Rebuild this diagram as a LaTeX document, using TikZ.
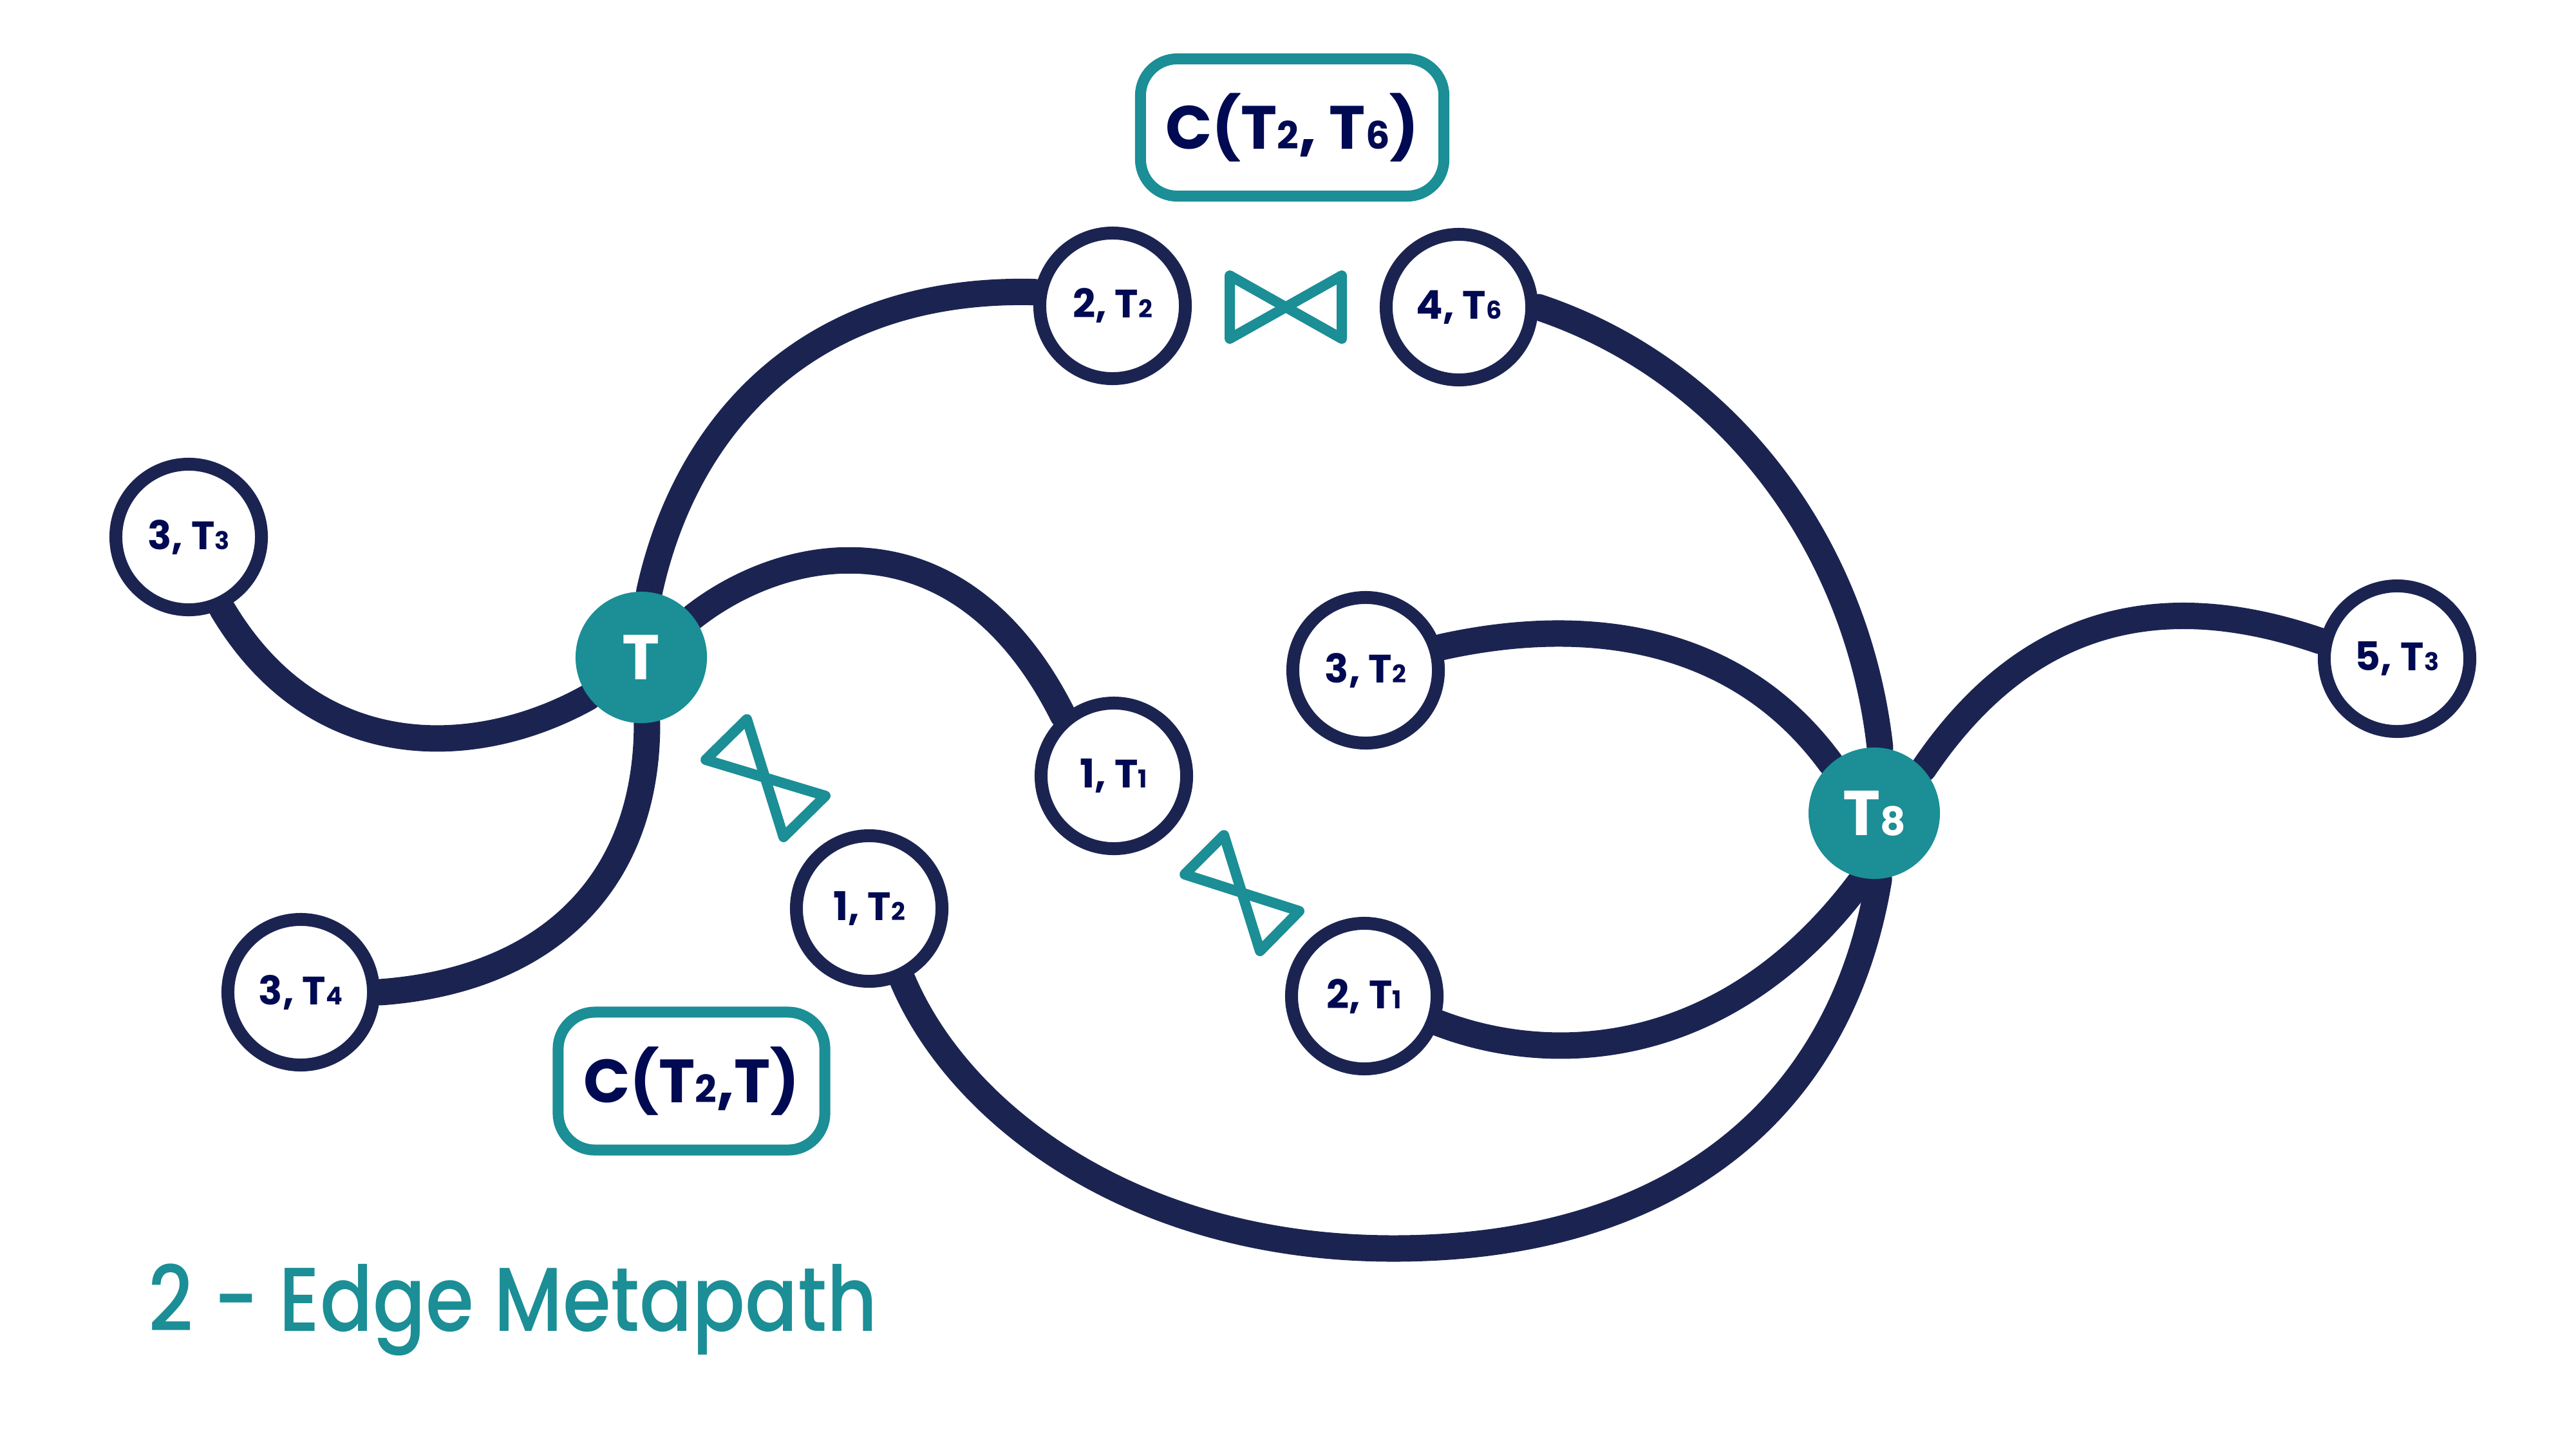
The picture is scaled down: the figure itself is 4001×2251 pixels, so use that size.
\documentclass[tikz,border=0pt]{standalone}
\usepackage{fontspec}
\usepackage{tikz}
\usetikzlibrary{backgrounds}
\setmainfont{Poppins}
\newfontfamily\titlefont[FakeStretch=0.86]{Poppins Medium}
\definecolor{navy}{HTML}{1B2451}
\definecolor{ink}{HTML}{000A52}
\definecolor{teal}{HTML}{1B8E96}
\newcommand{\dg}[1]{\scalebox{0.62}{#1}}
\tikzset{
  vertex/.style={circle,draw=navy,fill=white,line width=0.2cm,minimum size=2.26cm,inner sep=0pt,
    text=ink,font=\fontsize{17.5}{20}\bfseries},
  hub/.style={circle,fill=teal,minimum size=2.04cm,inner sep=0pt,text=white,font=\fontsize{28}{32}\bfseries},
  edge/.style={draw=navy,line width=0.41cm,line cap=round},
  joinline/.style={draw=teal,line width=0.16cm,line join=round},
  label/.style={draw=teal,fill=white,line width=0.17cm,rounded corners=0.57cm,inner sep=0pt,
    text=ink,font=\fontsize{27}{32}\bfseries}
}
\begin{document}
\begin{tikzpicture}[x=0.01cm,y=-0.01cm]
  \useasboundingbox (0,0) rectangle (4001,2251);

  \node[vertex] (33) at (293,834) {3, T\dg{3}};
  \node[vertex] (34) at (467,1541) {3, T\dg{4}};
  \node[vertex] (22) at (1728,475) {2, T\dg{2}};
  \node[vertex] (46) at (2266,477) {4, T\dg{6}};
  \node[vertex] (11) at (1730,1205) {1, T\dg{1}};
  \node[vertex] (12) at (1350,1411) {1, T\dg{2}};
  \node[vertex] (32) at (2121,1041) {3, T\dg{2}};
  \node[vertex] (21) at (2119,1547) {2, T\dg{1}};
  \node[vertex] (53) at (3723,1023) {5, T\dg{3}};
  \node[hub] (t) at (996,1021) {T};
  \node[hub] (t8) at (2911,1263) {T\dg{8}};
  \coordinate (low) at (2164,1939);

  \node[label,minimum width=4.71cm,minimum height=2.13cm] (c26) at (2007,198) {C(T\dg{2}, T\dg{6})};
  \node[label,minimum width=4.14cm,minimum height=2.14cm] (c2t) at (1074,1679) {C(T\dg{2},T)};

  \node[anchor=base west,text=teal,font=\titlefont\fontsize{40}{44}\selectfont] (title) at (218,2067) {2 - Edge Metapath};

  \begin{scope}[on background layer]
    \draw[edge] (t.83) .. controls (1065,660) and (1255,445) .. (22.170);
    \draw[edge] (t.38) .. controls (1225,842) and (1493,796) .. (11.130);
    \draw[edge] (t.217) .. controls (740,1180) and (490,1190) .. (33.-65);
    \draw[edge] (t.-85) .. controls (1005,1378) and (842,1523) .. (34.east);
    \draw[edge] (46.east) .. controls (2680,574) and (2884,842) .. (t8.85);
    \draw[edge] (32.17) .. controls (2450,958) and (2692,978) .. (t8.131);
    \draw[edge] (21.-20) .. controls (2420,1660) and (2690,1640) .. (t8.-100);
    \draw[edge] (12.-65) .. controls (1490,1730) and (1760,1939) .. (low)
      .. controls (2600,1939) and (2860,1720) .. (t8.-86);
    \draw[edge] (t8.42) .. controls (3139,970) and (3343,906) .. (53.167);
  \end{scope}

  \draw[joinline] (1910,428) -- (2084,526) -- (2084,428) -- (1910,526) -- cycle;
  \draw[joinline] (1096,1180) -- (1282,1236) -- (1217,1300) -- (1160,1117) -- cycle;
  \draw[joinline] (1840,1358) -- (2018,1415) -- (1957,1477) -- (1901,1297) -- cycle;
\end{tikzpicture}
\end{document}
